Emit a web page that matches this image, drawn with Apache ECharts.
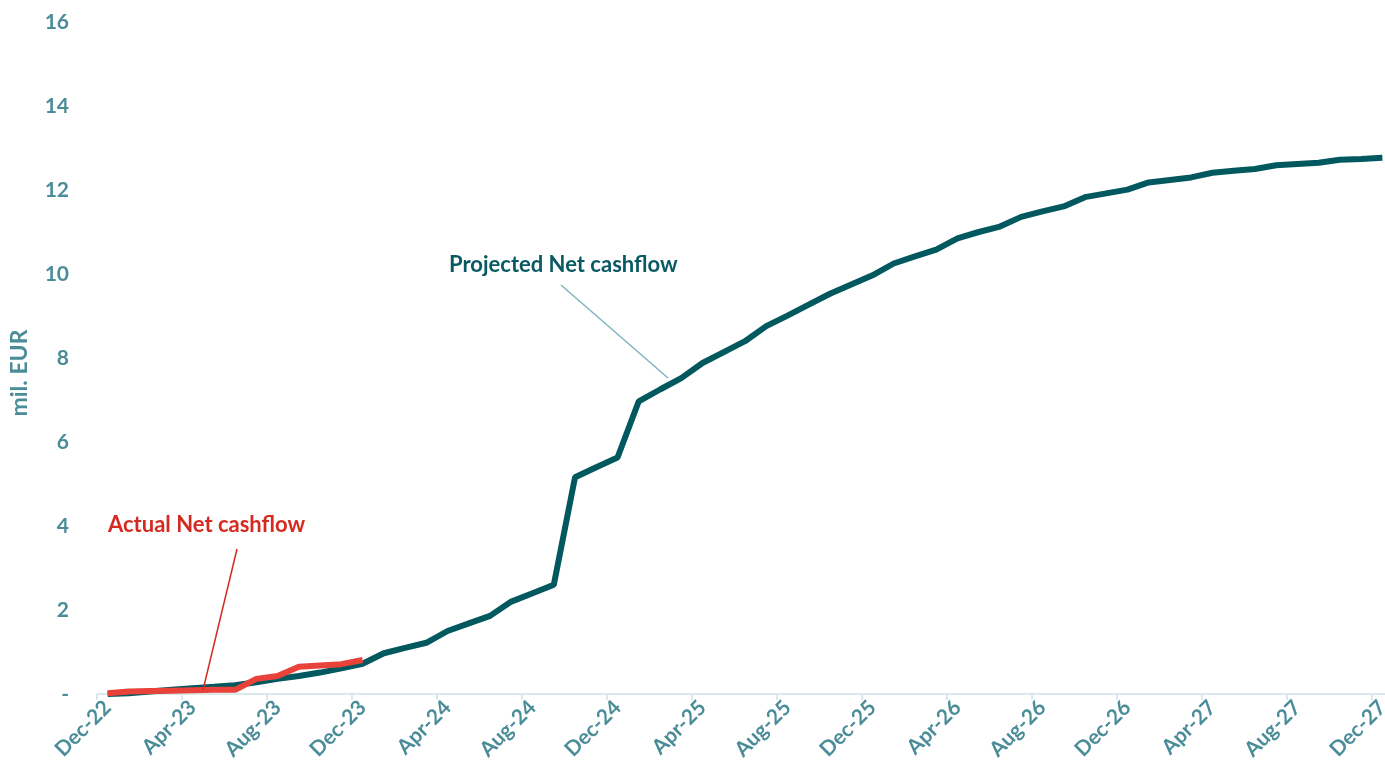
<!DOCTYPE html>
<html>
<head>
<meta charset="utf-8">
<script src="https://cdn.jsdelivr.net/npm/echarts@6/dist/echarts.min.js"></script>
<style>
html,body{margin:0;padding:0;background:#fff;overflow:hidden;}
#c{width:1385px;height:773px;}
</style>
</head>
<body>
<div id="c"></div>
<script>
const months = ['Jan','Feb','Mar','Apr','May','Jun','Jul','Aug','Sep','Oct','Nov','Dec'];
const categories = ['Dec-22'];
for (let y = 23; y <= 27; y++) for (const m of months) categories.push(m + '-' + y);

const projected = [
  0.00, 0.02, 0.06, 0.10, 0.14, 0.17, 0.21, 0.28, 0.36, 0.43, 0.51, 0.61, 0.72,
  0.97, 1.10, 1.22, 1.50, 1.68, 1.86, 2.20, 2.40, 2.60, 5.16, 5.40, 5.63,
  6.97, 7.25, 7.52, 7.88, 8.14, 8.40, 8.76, 9.01, 9.27, 9.53, 9.75, 9.97,
  10.25, 10.42, 10.58, 10.85, 11.00, 11.13, 11.36, 11.49, 11.61, 11.83, 11.92, 12.01,
  12.18, 12.24, 12.30, 12.41, 12.46, 12.50, 12.59, 12.62, 12.65, 12.72, 12.74, 12.77
];
const actual = [0.02, 0.06, 0.07, 0.08, 0.09, 0.10, 0.10, 0.36, 0.43, 0.65, 0.68, 0.71, 0.81];

const yTicks = [0, 2, 4, 6, 8, 10, 12, 14, 16];

const axisColor = '#4b8c99';
const font = 'Lato, "Open Sans", sans-serif';

const chart = echarts.init(document.getElementById('c'), null, {renderer: 'canvas'});
chart.setOption({
  animation: false,
  backgroundColor: '#ffffff',
  grid: {left: 97, width: 1296, top: 22, bottom: 79, containLabel: false, outerBoundsMode: 'none'},
  xAxis: {
    type: 'category',
    data: categories,
    boundaryGap: true,
    axisLine: {show: true, lineStyle: {color: '#dce9ec', width: 2}},
    axisTick: {show: true, interval: 3, length: 6, lineStyle: {color: '#dce9ec', width: 2}},
    axisLabel: {interval: 3, rotate: 45, color: axisColor, fontFamily: font, fontWeight: 'bold', fontSize: 21, margin: 10},
    splitLine: {show: false}
  },
  yAxis: {
    type: 'value',
    min: yTicks[0],
    max: yTicks[yTicks.length - 1],
    interval: 2,
    name: 'mil. EUR',
    nameLocation: 'middle',
    nameGap: 66,
    nameTextStyle: {color: axisColor, fontFamily: font, fontWeight: 'bold', fontSize: 23, padding: [0, 30, 0, 0]},
    axisLine: {show: false},
    axisTick: {show: false},
    splitLine: {show: false},
    axisLabel: {
      color: axisColor, fontFamily: font, fontWeight: 'bold', fontSize: 21, margin: 28,
      formatter: v => v === 0 ? '-' : String(v)
    }
  },
  series: [
    {
      name: 'Projected Net cashflow',
      type: 'line',
      data: projected,
      symbol: 'none',
      lineStyle: {color: '#02585f', width: 6},
      z: 2
    },
    {
      name: 'Actual Net cashflow',
      type: 'line',
      data: actual,
      symbol: 'none',
      lineStyle: {color: '#e8423a', width: 6},
      z: 3
    }
  ],
  graphic: [
    {type: 'text', left: 449, top: 254, z: 10,
     style: {text: 'Projected Net cashflow', fill: '#0a5a63', font: 'bold 22px ' + font}},
    {type: 'line', z: 10, shape: {x1: 561, y1: 285, x2: 668, y2: 378},
     style: {stroke: '#7fb5c0', lineWidth: 1.5}},
    {type: 'text', left: 108, top: 514, z: 10,
     style: {text: 'Actual Net cashflow', fill: '#d42a20', font: 'bold 22px ' + font}},
    {type: 'line', z: 10, shape: {x1: 237, y1: 549, x2: 203, y2: 690},
     style: {stroke: '#d42a20', lineWidth: 1.5}}
  ]
});
</script>
</body>
</html>
